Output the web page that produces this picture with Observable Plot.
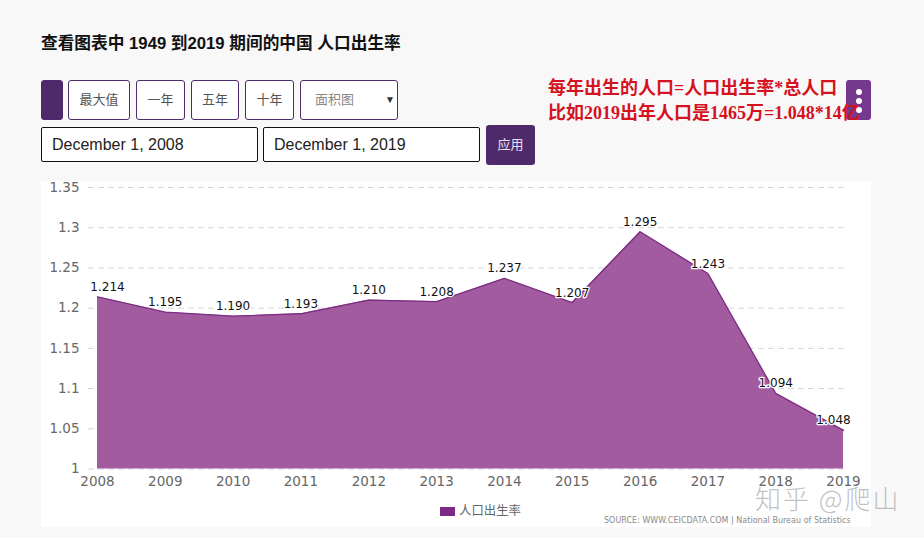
<!DOCTYPE html>
<html lang="zh">
<head>
<meta charset="utf-8">
<script src="https://cdn.jsdelivr.net/npm/d3@7"></script>
<script src="https://cdn.jsdelivr.net/npm/@observablehq/plot@0.6"></script>
<style>
html,body{margin:0;padding:0;width:924px;height:538px;overflow:hidden;background:#f8f8f9;font-family:"Liberation Sans","Noto Sans CJK SC",sans-serif;}
.a{position:absolute;box-sizing:border-box;white-space:nowrap;}
.btn{top:80px;height:40px;background:#fff;border:1px solid #4f2a6b;border-radius:3px;color:#555;font-size:13px;line-height:38px;text-align:center;}
.date{top:127px;height:35px;width:217px;background:#fff;border:1px solid #111;border-radius:2px;font-size:16px;line-height:33px;padding-left:10px;color:#222;}
#panel{left:41px;top:181px;width:830px;height:346px;background:#fff;}
#chart{left:41px;top:181px;}
#chart svg{display:block;background:transparent;}
</style>
</head>
<body>
<div class="a" style="left:41px;top:34px;font-size:16.7px;font-weight:bold;color:#111;line-height:20px;">查看图表中 1949 到2019 期间的中国 人口出生率</div>
<div class="a btn" style="left:41px;width:22px;background:#4f2a6b;"></div>
<div class="a btn" style="left:68px;width:62px;">最大值</div>
<div class="a btn" style="left:136px;width:49px;">一年</div>
<div class="a btn" style="left:191px;width:48px;">五年</div>
<div class="a btn" style="left:245px;width:49px;">十年</div>
<div class="a btn" style="left:300px;width:98px;color:#888;text-align:left;padding-left:14px;">面积图<span class="a" style="left:84px;top:0;font-size:10px;color:#333;">▼</span></div>
<div class="a date" style="left:41px;">December 1, 2008</div>
<div class="a date" style="left:263px;">December 1, 2019</div>
<div class="a" style="left:486px;top:125px;width:49px;height:40px;background:#4f2a6b;border-radius:3px;color:#e8e0ee;font-size:13px;line-height:40px;text-align:center;">应用</div>
<div class="a" style="left:846px;top:80px;width:25px;height:40px;background:#74388c;border-radius:3px;">
  <div class="a" style="left:10px;top:9px;width:6px;height:6px;border-radius:50%;background:#fff;"></div>
  <div class="a" style="left:10px;top:18px;width:6px;height:6px;border-radius:50%;background:#fff;"></div>
  <div class="a" style="left:10px;top:27px;width:6px;height:6px;border-radius:50%;background:#fff;"></div>
</div>
<div class="a" style="left:548px;top:76px;font-family:'Liberation Serif','Noto Sans CJK SC',serif;font-weight:bold;font-size:18px;line-height:25px;color:#d5121e;">每年出生的人口=人口出生率*总人口<br>比如2019出年人口是1465万=1.048*14亿</div>
<div class="a" id="panel"></div>
<div class="a" id="chart"></div>
<div class="a" style="left:440px;top:507px;width:15px;height:9px;background:#7b2a85;"></div>
<div class="a" style="left:459px;top:503px;font-size:12.4px;line-height:17px;color:#666;">人口出生率</div>
<div class="a" style="left:604px;top:515px;font-size:8px;line-height:12px;letter-spacing:.02px;color:#8a8a8a;font-family:'DejaVu Sans',sans-serif;">SOURCE: WWW.CEICDATA.COM | National Bureau of Statistics</div>
<div class="a" style="left:755px;top:481px;font-size:26px;line-height:34px;letter-spacing:2px;color:rgba(130,130,130,.5);font-family:'Noto Sans CJK SC',sans-serif;font-weight:300;">知乎 @爬山</div>
<script>
const years = [2008, 2009, 2010, 2011, 2012, 2013, 2014, 2015, 2016, 2017, 2018, 2019];
const birthRates = [1.214, 1.195, 1.190, 1.193, 1.210, 1.208, 1.237, 1.207, 1.295, 1.243, 1.094, 1.048];
const yTicks = [1, 1.05, 1.1, 1.15, 1.2, 1.25, 1.3, 1.35];

const rows = years.map((y, i) => ({date: new Date(Date.UTC(y, 11, 1)), year: y, rate: birthRates[i], label: birthRates[i].toFixed(3)}));
const labelStyle = {
  x: "date", y: "rate", text: "label", lineAnchor: "bottom", dy: -6,
  fill: "#111", stroke: "#fff", strokeWidth: 2.5, fontSize: 12,
  fontFamily: "'DejaVu Sans',sans-serif"
};
const plot = Plot.plot({
  width: 830, height: 346,
  marginLeft: 47, marginRight: 23, marginTop: 6, marginBottom: 58.5,
  style: {background: "transparent", overflow: "visible"},
  x: {type: "utc", range: [56, 802], domain: [rows[0].date, rows[rows.length - 1].date]},
  y: {domain: [1, 1.35]},
  marks: [
    Plot.gridY(yTicks, {stroke: "#d5d5d5", strokeOpacity: 1, strokeDasharray: "6 4"}),
    Plot.areaY(rows, {x: "date", y: "rate", y1: 1, fill: "#a35ba0", fillOpacity: 1}),
    Plot.lineY(rows, {x: "date", y: "rate", stroke: "#7b2d82", strokeWidth: 1.3}),
    Plot.axisY({ticks: yTicks, tickSize: 0, tickPadding: 9, tickFormat: d => String(d), fontSize: 13.5, fill: "#666", fontFamily: "'DejaVu Sans',sans-serif", label: null}),
    Plot.axisX({ticks: rows.map(d => d.date), tickSize: 0, tickPadding: 7, tickFormat: d => String(d.getUTCFullYear()), fontSize: 13.5, fill: "#666", fontFamily: "'DejaVu Sans',sans-serif", label: null}),
    Plot.text(rows.slice(0, 1), {...labelStyle, dx: 10}),
    Plot.text(rows.slice(1, -1), labelStyle),
    Plot.text(rows.slice(-1), {...labelStyle, dx: -10})
  ]
});
document.getElementById("chart").appendChild(plot);
</script>
</body>
</html>
